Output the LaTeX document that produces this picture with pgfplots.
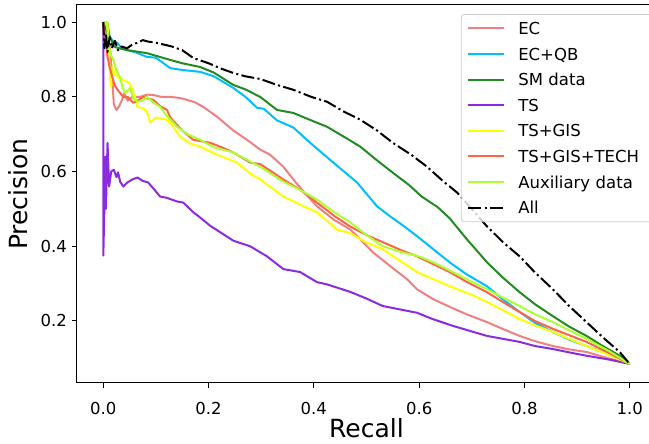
\documentclass[border=0pt]{standalone}
\usepackage{fontspec}
\setmainfont{DejaVu Sans}
\usepackage{pgfplots}
\pgfplotsset{compat=1.18}
\definecolor{cEC}{RGB}{240,128,128}
\definecolor{cECQB}{RGB}{0,191,255}
\definecolor{cSM}{RGB}{34,139,34}
\definecolor{cTS}{RGB}{138,43,226}
\definecolor{cTSG}{RGB}{255,255,0}
\definecolor{cTSGT}{RGB}{255,99,71}
\definecolor{cAUX}{RGB}{173,255,47}
\begin{document}
\begin{tikzpicture}
\begin{axis}[
  at={(0pt,0pt)}, anchor=south west,
  scale only axis, width=579pt, height=378pt,
  xmin=-0.05, xmax=1.05, ymin=0.034, ymax=1.046,
  xtick={0,0.2,0.4,0.6,0.8,1.0},
  ytick={0.2,0.4,0.6,0.8,1.0},
  /pgf/number format/.cd, fixed, fixed zerofill, precision=1, assume math mode=true,
  /pgfplots/.cd,
  tick pos=left, tick align=outside, major tick length=5pt,
  tick style={line width=1pt, black},
  axis line style={line width=1pt, black},
  tick label style={font=\fontsize{16.5}{20}\selectfont},
  xticklabel style={inner sep=0pt, yshift=-14pt},
  yticklabel style={inner sep=0pt, xshift=-5pt},
  xlabel={Recall}, ylabel={Precision},
  label style={font=\fontsize{25}{30}\selectfont},
  xlabel style={at={(axis description cs:0.5,-0.145)}, anchor=base, inner sep=0pt},
  ylabel style={at={(axis description cs:-0.102,0.5)}, anchor=center, rotate=0},
  every axis plot/.append style={line width=2pt, line join=round},
  legend cell align=left,
  legend image code/.code={\draw[#1] (0pt,0pt) -- (36pt,0pt);},
  legend style={at={(rel axis cs:0.663,0.976)}, anchor=north west,
    font=\fontsize{16.5}{20}\selectfont,
    draw=black!20, line width=0.8pt, rounded corners=3pt, fill=white, fill opacity=0.8, text opacity=1,
    inner xsep=6pt, inner ysep=7.5pt,
    row sep=12.6pt, column sep=13pt,
    nodes={inner sep=0pt, text height=12.5pt, text depth=0.5pt, text width=135pt, align=left}},
]
\addplot[cEC] coordinates {(0,1.0) (0.004,0.98) (0.008,0.95) (0.013,0.93) (0.017,0.85) (0.02,0.78) (0.025,0.765) (0.03,0.775) (0.035,0.79) (0.04,0.81) (0.046,0.79) (0.055,0.80) (0.07,0.80) (0.083,0.806) (0.095,0.805) (0.11,0.80) (0.127,0.80) (0.146,0.797) (0.159,0.792) (0.175,0.785) (0.19,0.773) (0.216,0.747) (0.247,0.71) (0.273,0.685) (0.298,0.659) (0.317,0.645) (0.342,0.613) (0.361,0.579) (0.38,0.547) (0.406,0.507) (0.437,0.472) (0.469,0.445) (0.488,0.419) (0.512,0.384) (0.545,0.347) (0.577,0.312) (0.596,0.285) (0.626,0.259) (0.658,0.238) (0.69,0.218) (0.729,0.197) (0.76,0.178) (0.791,0.16) (0.82,0.146) (0.854,0.133) (0.885,0.124) (0.918,0.117) (0.96,0.1) (1.0,0.085)};
\addlegendentry{EC}
\addplot[cECQB] coordinates {(0,1.0) (0.008,1.0) (0.012,0.96) (0.018,0.95) (0.027,0.944) (0.035,0.93) (0.046,0.925) (0.06,0.92) (0.083,0.907) (0.1,0.905) (0.127,0.877) (0.15,0.872) (0.184,0.867) (0.21,0.855) (0.247,0.824) (0.27,0.80) (0.292,0.771) (0.305,0.768) (0.33,0.737) (0.361,0.718) (0.393,0.677) (0.437,0.624) (0.482,0.571) (0.52,0.507) (0.545,0.48) (0.57,0.455) (0.596,0.427) (0.62,0.40) (0.658,0.357) (0.69,0.325) (0.729,0.293) (0.76,0.257) (0.791,0.224) (0.82,0.195) (0.854,0.171) (0.885,0.15) (0.918,0.133) (0.968,0.107) (1.0,0.085)};
\addlegendentry{EC+QB}
\addplot[cSM] coordinates {(0,1.0) (0.005,0.98) (0.013,0.96) (0.02,0.935) (0.03,0.93) (0.046,0.925) (0.06,0.922) (0.083,0.917) (0.1,0.91) (0.127,0.899) (0.15,0.89) (0.184,0.88) (0.21,0.865) (0.247,0.832) (0.27,0.82) (0.298,0.80) (0.33,0.765) (0.361,0.757) (0.39,0.74) (0.425,0.72) (0.455,0.695) (0.488,0.667) (0.52,0.63) (0.55,0.597) (0.58,0.565) (0.605,0.533) (0.635,0.505) (0.658,0.475) (0.69,0.42) (0.729,0.357) (0.76,0.315) (0.791,0.277) (0.82,0.245) (0.854,0.213) (0.885,0.185) (0.918,0.16) (0.95,0.132) (0.981,0.107) (1.0,0.085)};
\addlegendentry{SM data}
\addplot[cTS] coordinates {(0,1.0) (0,0.375) (0.002,0.5) (0.004,0.64) (0.005,0.5) (0.008,0.677) (0.011,0.56) (0.015,0.6) (0.02,0.605) (0.025,0.585) (0.028,0.598) (0.032,0.573) (0.038,0.56) (0.045,0.57) (0.055,0.579) (0.065,0.584) (0.075,0.575) (0.085,0.571) (0.095,0.555) (0.108,0.533) (0.12,0.53) (0.14,0.52) (0.152,0.517) (0.171,0.491) (0.184,0.477) (0.203,0.455) (0.225,0.435) (0.247,0.415) (0.279,0.4) (0.311,0.373) (0.342,0.339) (0.374,0.331) (0.406,0.304) (0.425,0.298) (0.469,0.278) (0.5,0.26) (0.531,0.24) (0.56,0.232) (0.596,0.222) (0.626,0.205) (0.664,0.187) (0.70,0.172) (0.729,0.16) (0.76,0.152) (0.791,0.144) (0.82,0.133) (0.854,0.125) (0.885,0.116) (0.918,0.107) (0.96,0.097) (1.0,0.085)};
\addlegendentry{TS}
\addplot[cTSG] coordinates {(0,1.0) (0.008,1.0) (0.01,0.93) (0.013,0.85) (0.015,0.827) (0.017,0.88) (0.022,0.86) (0.027,0.853) (0.038,0.845) (0.045,0.84) (0.051,0.835) (0.06,0.80) (0.065,0.773) (0.075,0.77) (0.083,0.76) (0.089,0.731) (0.1,0.745) (0.108,0.742) (0.118,0.74) (0.127,0.731) (0.14,0.705) (0.146,0.693) (0.165,0.675) (0.184,0.667) (0.216,0.645) (0.235,0.635) (0.254,0.624) (0.279,0.595) (0.298,0.579) (0.342,0.533) (0.393,0.499) (0.406,0.491) (0.444,0.445) (0.469,0.435) (0.5,0.41) (0.531,0.392) (0.565,0.36) (0.596,0.331) (0.63,0.31) (0.658,0.293) (0.7,0.27) (0.729,0.251) (0.76,0.228) (0.791,0.205) (0.82,0.188) (0.854,0.171) (0.885,0.152) (0.918,0.133) (0.96,0.11) (1.0,0.085)};
\addlegendentry{TS+GIS}
\addplot[cTSGT] coordinates {(0,1.0) (0.004,0.95) (0.008,0.907) (0.012,0.88) (0.017,0.853) (0.022,0.83) (0.027,0.819) (0.038,0.80) (0.046,0.80) (0.057,0.784) (0.065,0.79) (0.076,0.80) (0.085,0.795) (0.095,0.792) (0.108,0.775) (0.121,0.765) (0.127,0.745) (0.15,0.71) (0.171,0.685) (0.203,0.677) (0.225,0.665) (0.247,0.651) (0.279,0.624) (0.298,0.62) (0.342,0.579) (0.375,0.55) (0.406,0.517) (0.44,0.48) (0.469,0.453) (0.5,0.43) (0.531,0.411) (0.565,0.39) (0.596,0.373) (0.63,0.35) (0.658,0.331) (0.69,0.305) (0.729,0.277) (0.76,0.25) (0.791,0.224) (0.82,0.2) (0.854,0.179) (0.885,0.162) (0.918,0.144) (0.96,0.115) (1.0,0.085)};
\addlegendentry{TS+GIS+TECH}
\addplot[cAUX] coordinates {(0,1.0) (0.006,1.0) (0.01,0.95) (0.013,0.917) (0.019,0.899) (0.025,0.87) (0.032,0.853) (0.036,0.827) (0.042,0.81) (0.051,0.824) (0.057,0.795) (0.065,0.787) (0.075,0.79) (0.083,0.80) (0.095,0.785) (0.108,0.773) (0.12,0.75) (0.133,0.731) (0.14,0.72) (0.16,0.70) (0.184,0.685) (0.21,0.665) (0.247,0.651) (0.279,0.627) (0.298,0.613) (0.342,0.573) (0.375,0.55) (0.406,0.525) (0.44,0.49) (0.469,0.464) (0.5,0.43) (0.531,0.40) (0.565,0.385) (0.6,0.373) (0.63,0.355) (0.664,0.331) (0.7,0.305) (0.729,0.285) (0.76,0.262) (0.791,0.24) (0.82,0.218) (0.854,0.197) (0.885,0.175) (0.918,0.152) (0.96,0.12) (1.0,0.085)};
\addlegendentry{Auxiliary data}
\addplot[black, dash pattern=on 13pt off 3.3pt on 2.1pt off 3.3pt] coordinates {(0,1.0) (0.002,0.93) (0.005,0.97) (0.008,0.92) (0.012,0.96) (0.016,0.93) (0.022,0.95) (0.028,0.925) (0.035,0.935) (0.045,0.93) (0.055,0.94) (0.065,0.945) (0.075,0.952) (0.085,0.948) (0.1,0.945) (0.115,0.94) (0.13,0.935) (0.15,0.925) (0.171,0.904) (0.2,0.89) (0.225,0.875) (0.247,0.864) (0.27,0.855) (0.298,0.848) (0.33,0.832) (0.361,0.819) (0.395,0.80) (0.425,0.787) (0.455,0.762) (0.488,0.739) (0.52,0.71) (0.55,0.677) (0.585,0.645) (0.615,0.613) (0.645,0.575) (0.672,0.544) (0.7,0.5) (0.729,0.453) (0.76,0.41) (0.791,0.373) (0.82,0.33) (0.854,0.285) (0.885,0.24) (0.918,0.197) (0.95,0.155) (0.981,0.117) (1.0,0.085)};
\addlegendentry{All}
\end{axis}
\pgfresetboundingbox
\path[use as bounding box] (-77pt,-61pt) rectangle (572pt,383pt);
\end{tikzpicture}
\end{document}
